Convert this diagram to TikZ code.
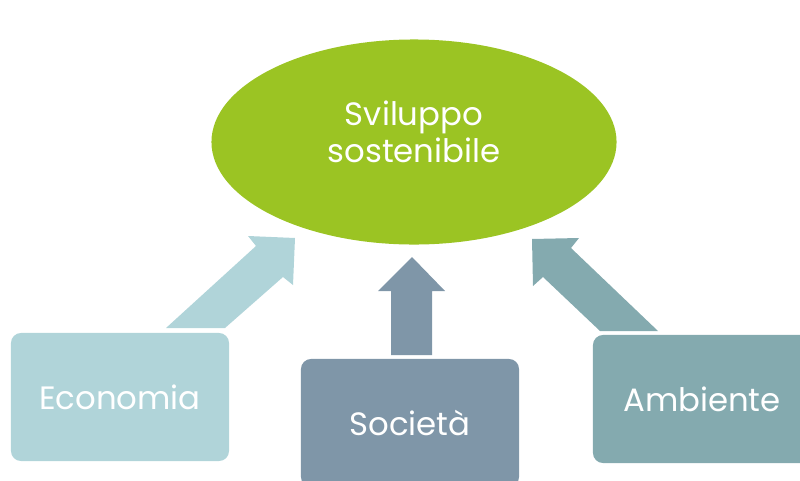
\documentclass[tikz,border=0pt]{standalone}
\usepackage{fontspec}
\setmainfont{Poppins}
\usetikzlibrary{shapes.geometric}
\definecolor{goalgreen}{HTML}{9BC423}
\definecolor{ecoblue}{HTML}{B0D4D9}
\definecolor{socgrey}{HTML}{7F96A8}
\definecolor{ambteal}{HTML}{84AAAF}
\begin{document}
\begin{tikzpicture}[x=0.025cm,y=-0.025cm,
    pillar/.style={rounded corners=0.25cm,minimum width=5.45cm,minimum height=3.2cm,
      text=white,font=\fontsize{23}{27}\selectfont},
    goal/.style={ellipse,fill=goalgreen,minimum width=10.125cm,minimum height=5.125cm,
      text=white,align=center,font=\fontsize{23}{26}\selectfont}
]
\useasboundingbox (0,0) rectangle (800,480);
\clip (0,0) rectangle (800,480);

\node[goal] (G) at (414,142) {Sviluppo\\sostenibile\\[-0.5em]\mbox{}};

\node[pillar,fill=ecoblue] (E) at (120,397) {Economia};
\node[pillar,fill=socgrey] (S) at (410,423) {Società};
\node[pillar,fill=ambteal] (A) at (702,399) {Ambiente};

% block arrows
\fill[ecoblue] (166,328) -- (256,246) -- (248,236) -- (295,238) -- (293,285) -- (283,277) -- (225,328) -- cycle;
\fill[socgrey] (391,355) -- (391,291) -- (378,291) -- (412,257) -- (445,291) -- (432,291) -- (432,355) -- cycle;
\fill[ambteal] (658,331) -- (571,248) -- (579,238) -- (532,239) -- (533,286) -- (543,277) -- (600,331) -- cycle;

\end{tikzpicture}
\end{document}
